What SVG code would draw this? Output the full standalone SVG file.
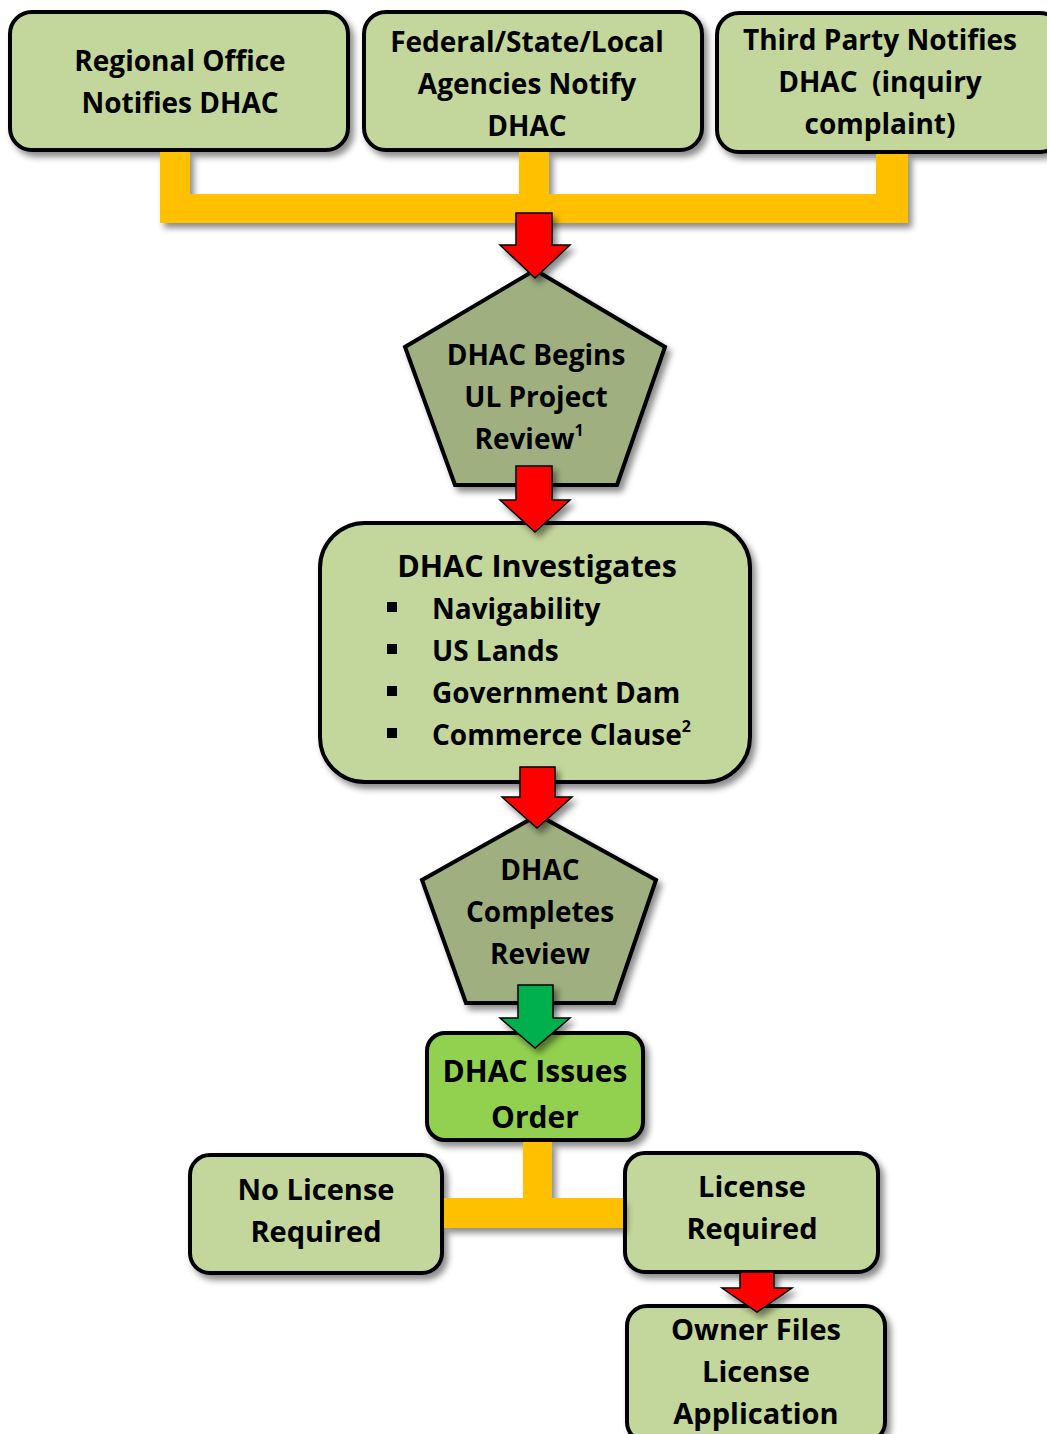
<svg xmlns="http://www.w3.org/2000/svg" width="1047" height="1434" viewBox="0 0 1047 1434">
<defs>
<filter id="sh" x="-10%" y="-10%" width="130%" height="130%">
<feDropShadow dx="4" dy="5" stdDeviation="3" flood-color="#000" flood-opacity="0.45"/>
</filter>
<style>
.box{fill:#C3D69B;stroke:#000;stroke-width:4;filter:url(#sh)}
.pent{fill:#9FAF80;stroke:#000;stroke-width:4;filter:url(#sh)}
.green{fill:#92D050;stroke:#000;stroke-width:4;filter:url(#sh)}
.bar{fill:#FFC000;filter:url(#sh)}
.red{fill:#FF0000;stroke:#000;stroke-width:1.5;filter:url(#sh)}
.garr{fill:#00B050;stroke:#000;stroke-width:1.5;filter:url(#sh)}
text{font-family:"Open Sans",Lato,"Liberation Sans",sans-serif;font-weight:bold;font-size:28px;fill:#000}
.c{text-anchor:middle}
.sup{font-size:16px}
.big{font-size:29px}
</style>
</defs>
<g id="n-regional">
<rect class="box" x="10" y="12" width="338" height="138" rx="22"/>
<text class="c" x="180" y="71">Regional Office</text>
<text class="c" x="180" y="113">Notifies DHAC</text>
</g>
<g id="n-agencies">
<rect class="box" x="364" y="12" width="338" height="138" rx="22"/>
<text class="c" x="527" y="52">Federal/State/Local</text>
<text class="c" x="527" y="94">Agencies Notify</text>
<text class="c" x="527" y="136">DHAC</text>
</g>
<g id="n-third">
<rect class="box" x="717" y="13" width="345" height="139" rx="22"/>
<text class="c" x="880" y="50">Third Party Notifies</text>
<text class="c" x="880" y="92" xml:space="preserve">DHAC  (inquiry</text>
<text class="c" x="880" y="134">complaint)</text>
</g>
<g id="n-begins">
<polygon class="pent" points="535,270 665,347 617,485 455,485 405,347"/>
<text class="c" x="536" y="365">DHAC Begins</text>
<text class="c" x="536" y="407">UL Project</text>
<text class="c" x="529" y="449">Review<tspan class="sup" dy="-13">1</tspan></text>
</g>
<g id="n-investigates">
<rect class="box" x="320" y="523" width="430" height="259" rx="45"/>
<text class="c" x="537" y="577" style="font-size:30.5px">DHAC Investigates</text>
<rect x="387" y="602" width="10" height="10"/>
<rect x="387" y="644" width="10" height="10"/>
<rect x="387" y="686" width="10" height="10"/>
<rect x="387" y="728" width="10" height="10"/>
<text x="432" y="619">Navigability</text>
<text x="432" y="661">US Lands</text>
<text x="432" y="703">Government Dam</text>
<text x="432" y="745">Commerce Clause<tspan class="sup" dy="-13">2</tspan></text>
</g>
<g id="n-completes">
<polygon class="pent" points="538,815 656,880 614,1003 466,1003 422,880"/>
<text class="c" x="540" y="880">DHAC</text>
<text class="c" x="540" y="922">Completes</text>
<text class="c" x="540" y="964">Review</text>
</g>
<g id="n-issues">
<rect class="green" x="427" y="1033" width="216" height="107" rx="18"/>
<text class="c" x="535" y="1082" style="font-size:30px">DHAC Issues</text>
<text class="c" x="535" y="1128" style="font-size:30px">Order</text>
</g>
<g id="n-nolicense">
<rect class="box" x="190" y="1155" width="252" height="118" rx="20"/>
<text class="c big" x="316" y="1200">No License</text>
<text class="c big" x="316" y="1242">Required</text>
</g>
<g id="n-license">
<rect class="box" x="625" y="1153" width="253" height="119" rx="20"/>
<text class="c big" x="752" y="1197">License</text>
<text class="c big" x="752" y="1239">Required</text>
</g>
<g id="n-owner">
<rect class="box" x="627" y="1306" width="258" height="136" rx="20"/>
<text class="c big" x="756" y="1340">Owner Files</text>
<text class="c big" x="756" y="1382">License</text>
<text class="c big" x="756" y="1424">Application</text>
</g>
<g id="connectors">
<path class="bar" d="M160,152 H190 V194 H519 V152 H549 V194 H876 V154 H908 V223 H160 Z"/>
<path class="bar" d="M523,1142 H552 V1198 H623 V1228 H444 V1198 H523 Z"/>
<path class="red" d="M516,213 H552 V245 H570 L535,278 L500,245 H516 Z"/>
<path class="red" d="M516,466 H552 V500 H570 L535,532 L500,500 H516 Z"/>
<path class="red" d="M520,767 H555 V797 H572 L537,828 L502,797 H520 Z"/>
<path class="garr" d="M518,985 H553 V1018 H570 L535,1048 L500,1018 H518 Z"/>
<path class="red" d="M740,1272 H774 V1288 H792 L757,1312 L722,1288 H740 Z"/>
</g>
</svg>
